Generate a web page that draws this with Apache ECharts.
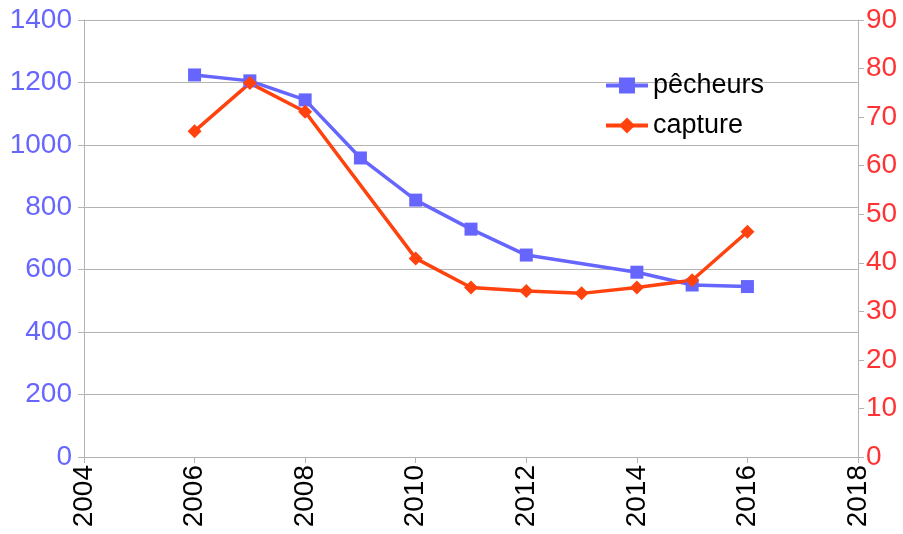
<!DOCTYPE html>
<html><head><meta charset="utf-8">
<script src="https://cdn.jsdelivr.net/npm/echarts@6/dist/echarts.min.js"></script>
<style>html,body{margin:0;padding:0;background:#fff}#c{width:903px;height:534px}</style>
</head><body><div id="c"></div>
<script>
const pecheursYears = [2006, 2007, 2008, 2009, 2010, 2011, 2012, 2014, 2015, 2016];
const pecheursValues = [1224, 1205, 1144, 958, 823, 730, 647, 592, 551, 546];
const captureYears = [2006, 2007, 2008, 2010, 2011, 2012, 2013, 2014, 2015, 2016];
const captureValues = [67.1, 77.0, 71.1, 40.9, 34.9, 34.2, 33.7, 34.9, 36.4, 46.4];
const seriesNames = ['pêcheurs', 'capture'];

const blue = '#6666ff', red = '#ff420e';
const font = 'Liberation Sans, Arial, sans-serif';
const plain = v => String(v);
const chart = echarts.init(document.getElementById('c'), null, {renderer: 'canvas'});
chart.setOption({
  animation: false,
  grid: {left: 84, right: 45, top: 20, bottom: 77},
  legend: {
    orient: 'vertical', left: 599, top: 67, itemGap: 13, itemWidth: 42, itemHeight: 20,
    lineStyle: {width: 4},
    textStyle: {fontFamily: font, fontSize: 27, color: '#000'},
    data: seriesNames
  },
  xAxis: {
    type: 'value', min: 2004, max: 2018, interval: 2,
    axisLine: {show: true, lineStyle: {color: '#b3b3b3'}},
    axisTick: {show: true, length: 6, lineStyle: {color: '#b3b3b3'}},
    splitLine: {show: false},
    axisLabel: {rotate: 90, fontFamily: font, fontSize: 28, color: '#000', margin: 8, formatter: plain}
  },
  yAxis: [{
    type: 'value', min: 0, max: 1400, interval: 200, position: 'left',
    axisLine: {show: true, lineStyle: {color: '#b3b3b3'}},
    axisTick: {show: true, length: 6, lineStyle: {color: '#b3b3b3'}},
    splitLine: {show: true, lineStyle: {color: '#b3b3b3'}},
    axisLabel: {fontFamily: font, fontSize: 28, color: blue, margin: 12, formatter: plain}
  }, {
    type: 'value', min: 0, max: 90, interval: 10, position: 'right',
    axisLine: {show: true, lineStyle: {color: '#b3b3b3'}},
    axisTick: {show: true, length: 6, lineStyle: {color: '#b3b3b3'}},
    splitLine: {show: false},
    axisLabel: {fontFamily: font, fontSize: 28, color: '#ff3333', margin: 8, formatter: plain}
  }],
  series: [{
    name: seriesNames[0], type: 'line', yAxisIndex: 0,
    data: pecheursYears.map((y, i) => [y, pecheursValues[i]]),
    symbol: 'rect', symbolSize: 13, lineStyle: {color: blue, width: 3.5}, itemStyle: {color: blue}
  }, {
    name: seriesNames[1], type: 'line', yAxisIndex: 1,
    data: captureYears.map((y, i) => [y, captureValues[i]]),
    symbol: 'diamond', symbolSize: 14, lineStyle: {color: red, width: 3.5}, itemStyle: {color: red}
  }]
});
</script></body></html>
